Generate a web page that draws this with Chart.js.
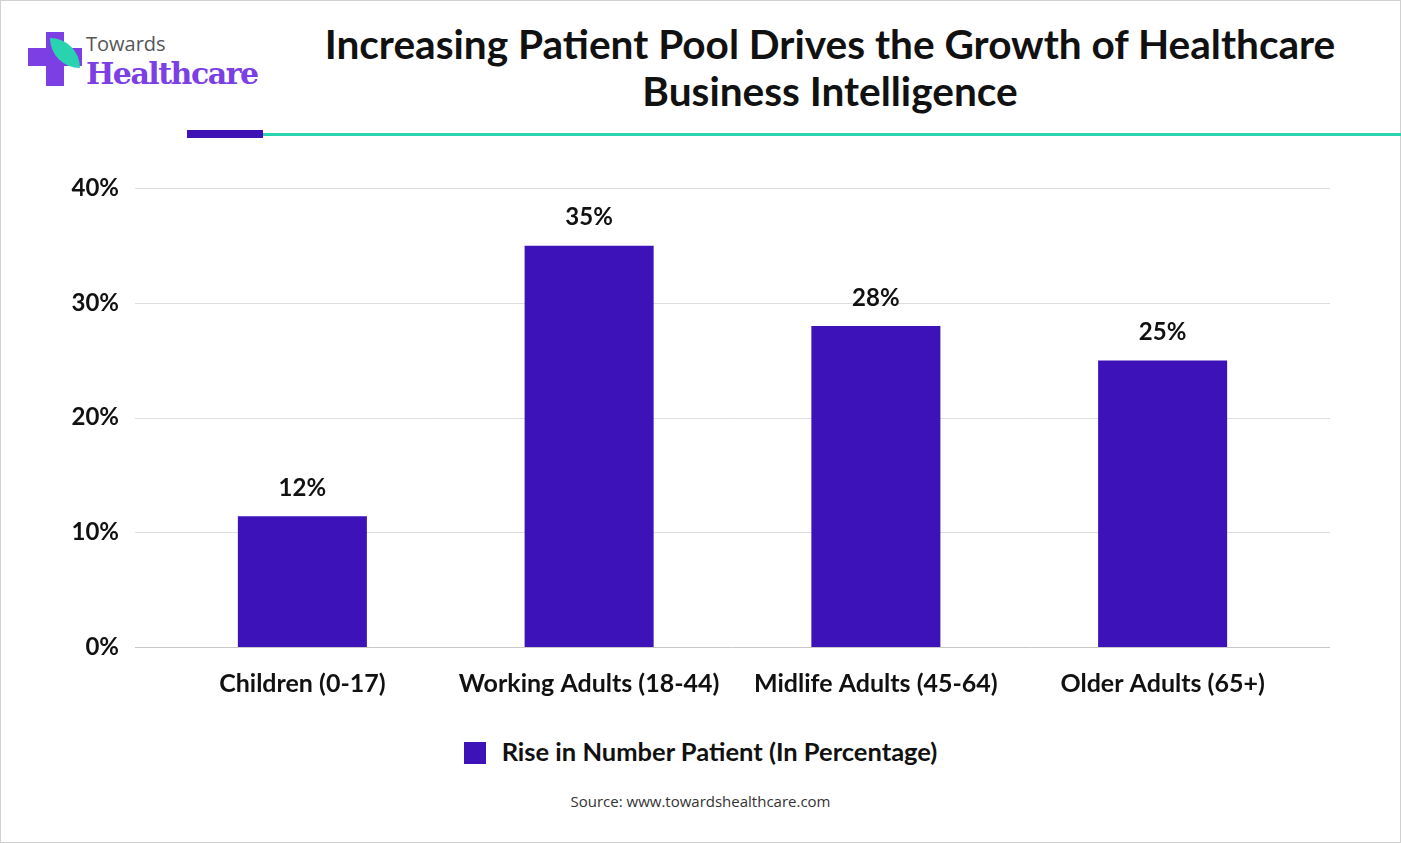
<!DOCTYPE html>
<html><head><meta charset="utf-8">
<script src="https://cdn.jsdelivr.net/npm/chart.js@4"></script>
<style>
body{margin:0;width:1401px;height:843px;background:#fff;font-family:Lato,sans-serif;overflow:hidden}
#frame{position:absolute;left:0;top:0;width:1399px;height:841px;border:1px solid #d0d0d0}
#title{position:absolute;left:280px;width:1100px;top:20px;text-align:center;font-weight:bold;font-size:40.6px;line-height:47px;color:#111}
#logo{position:absolute;left:28px;top:32px}
#cross1{position:absolute;left:0;top:16px;width:54px;height:18px;background:#7b3fe4}
#cross2{position:absolute;left:18px;top:0;width:18px;height:54px;background:#7b3fe4}
#leaf{position:absolute;left:22px;top:6px;width:30px;height:30px;background:#2ad3b0;border-radius:0 30px 0 30px}
#tw{position:absolute;left:58px;top:-2px;font-size:20px;color:#555;font-family:"Open Sans"}
#hc{position:absolute;left:58px;top:24px;font-size:30px;color:#7b3fe4;font-family:"DejaVu Serif";font-weight:bold;letter-spacing:-1.5px;white-space:nowrap}
#l1{position:absolute;left:187px;top:130px;width:76px;height:8px;background:#3f12b8}
#l2{position:absolute;left:263px;top:133px;width:1138px;height:3px;background:#2ad3b0}
#wrap{position:absolute;left:40px;top:142px;width:1320px;height:571px}
#legend{position:absolute;top:736px;left:0;width:1401px;text-align:center;font-size:25.5px;font-weight:bold;color:#111}
#legend span{display:inline-block;width:22px;height:22px;background:#3d12b9;vertical-align:-3px;margin-right:16px}
#src{position:absolute;top:791px;left:0;width:1401px;text-align:center;font-size:15px;color:#333;font-family:"Open Sans"}
</style></head><body>
<div id="frame"></div>
<div id="logo"><div id="cross1"></div><div id="cross2"></div><div id="leaf"></div><div id="tw">Towards</div><div id="hc">Healthcare</div></div>
<div id="title">Increasing Patient Pool Drives the Growth of Healthcare<br>Business Intelligence</div>
<div id="l1"></div><div id="l2"></div>
<div id="wrap"><canvas id="c"></canvas></div>
<div id="legend"><span></span>Rise in Number Patient (In Percentage)</div>
<div id="src">Source: www.towardshealthcare.com</div>
<script>
const categories = ['Children (0-17)', 'Working Adults (18-44)', 'Midlife Adults (45-64)', 'Older Adults (65+)'];
const values = [11.4, 35, 28, 25];
const valueLabels = ['12%', '35%', '28%', '25%'];
const yTicks = [0, 10, 20, 30, 40];

// gridlines run a bit past the category band on both sides
const gridPlugin = {
    id: 'wideGrid',
    beforeDatasetsDraw(chart) {
        const { ctx, chartArea, scales: { y } } = chart;
        ctx.save();
        yTicks.forEach(v => {
            const py = Math.round(y.getPixelForValue(v)) + 0.5;
            ctx.strokeStyle = v === 0 ? '#c8c8c8' : '#dedede';
            ctx.lineWidth = 1;
            ctx.beginPath();
            ctx.moveTo(chartArea.left - 24, py);
            ctx.lineTo(chartArea.right + 24, py);
            ctx.stroke();
        });
        ctx.restore();
    }
};

const labelPlugin = {
    id: 'valueLabels',
    afterDatasetsDraw(chart) {
        const ctx = chart.ctx;
        const meta = chart.getDatasetMeta(0);
        ctx.save();
        ctx.font = 'bold 24px Lato';
        ctx.fillStyle = '#111';
        ctx.textAlign = 'center';
        ctx.textBaseline = 'bottom';
        meta.data.forEach((bar, i) => ctx.fillText(valueLabels[i], bar.x, bar.y - 16));
        ctx.restore();
    }
};

new Chart(document.getElementById('c'), {
    type: 'bar',
    data: {
        labels: categories,
        datasets: [{ data: values, backgroundColor: '#3d12b9', barPercentage: 0.45, categoryPercentage: 1 }]
    },
    options: {
        responsive: true,
        maintainAspectRatio: false,
        animation: false,
        layout: { padding: { top: 0, right: 54 } },
        scales: {
            x: {
                grid: { display: false },
                border: { display: false },
                ticks: { color: '#111', font: { size: 25, weight: 'bold', family: 'Lato' }, padding: 14 }
            },
            y: {
                min: 0, max: 40,
                afterBuildTicks: axis => { axis.ticks = yTicks.map(v => ({ value: v })); },
                afterFit: axis => { axis.width = 119; },
                grid: { display: false },
                border: { display: false },
                ticks: { color: '#111', font: { size: 24, weight: 'bold', family: 'Lato' }, padding: 32, callback: v => v + '%' }
            }
        },
        plugins: { legend: { display: false }, tooltip: { enabled: false } }
    },
    plugins: [gridPlugin, labelPlugin]
});
</script>
</body></html>
